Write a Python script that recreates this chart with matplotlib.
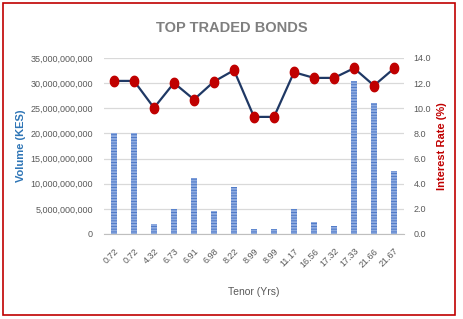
import matplotlib
matplotlib.use('Agg')
import numpy as np
from matplotlib import pyplot as plt
from matplotlib.patches import Rectangle
from matplotlib.path import Path
from matplotlib.ticker import FuncFormatter, MultipleLocator

# Данные графика
tenors = ['0.72', '0.72', '4.32', '6.73', '6.91', '6.98', '8.22', '8.99',
          '8.99', '11.17', '16.56', '17.32', '17.33', '21.66', '21.67']
volumes = [20.0e9, 20.0e9, 1.95e9, 4.9e9, 11.2e9, 4.5e9, 9.3e9, 0.95e9,
           0.95e9, 4.95e9, 2.35e9, 1.55e9, 30.4e9, 26.1e9, 12.5e9]
rates = [12.17, 12.17, 10.03, 12.01, 10.69, 12.12, 13.02, 9.31,
         9.31, 12.86, 12.41, 12.41, 13.18, 11.80, 13.16]

plt.rcParams['font.family'] = ['Liberation Sans', 'DejaVu Sans']
plt.rcParams['hatch.linewidth'] = 0.6

# маркер - эллипс, чуть вытянутый по вертикали
t = np.linspace(0, 2 * np.pi, 40)
ellipse = Path(np.column_stack([0.8 * np.cos(t), np.sin(t)]), closed=True)

fig = plt.figure(figsize=(4.63, 3.19), dpi=100)
ax = fig.add_axes([0.2246, 0.2665, 0.648, 0.552])
ax2 = ax.twinx()

x = list(range(len(tenors)))
ax.bar(x, volumes, width=0.3, color='#8eaadf', edgecolor='#4472c4',
       hatch='------', linewidth=0, zorder=2)
ax2.plot(x, rates, color='#1f3864', lw=1.6, marker=ellipse, ms=7.5,
         mfc='#c00000', mec='#c00000', zorder=3)

ax.set_xlim(-0.5, len(tenors) - 0.5)
ax.set_ylim(0, 35e9)
ax2.set_ylim(0, 14)
ax.yaxis.set_major_locator(MultipleLocator(5e9))
ax2.yaxis.set_major_locator(MultipleLocator(2))
ax.yaxis.set_major_formatter(FuncFormatter(lambda v, p: f'{int(v):,}'))
ax2.yaxis.set_major_formatter(FuncFormatter(lambda v, p: f'{v:.1f}'))
ax.grid(axis='y', color='#d9d9d9', lw=0.9, zorder=0)
ax.set_axisbelow(True)

for a in (ax, ax2):
    for s in a.spines.values():
        s.set_visible(False)
    a.tick_params(length=0, labelsize=6.5, labelcolor='#595959')
ax.spines['bottom'].set_visible(True)
ax.spines['bottom'].set_color('#bfbfbf')

ax.set_xticks(x)
ax.set_xticklabels(tenors, rotation=45, ha='right', rotation_mode='anchor')
ax.tick_params(axis='x', pad=9)
ax.tick_params(axis='y', pad=8)
ax2.tick_params(axis='y', pad=7)

ax.set_xlabel('Tenor (Yrs)', fontsize=7.5, color='#595959', labelpad=13)
ax.set_ylabel('Volume (KES)', fontsize=8, color='#2e75b6', fontweight='bold',
              labelpad=3)
ax2.set_ylabel('Interest Rate (%)', fontsize=8, color='#c00000',
               fontweight='bold', labelpad=4)

fig.text(0.5, 0.912, 'TOP TRADED BONDS', ha='center',
         va='center', fontsize=10.5, fontweight='bold', color='#7f7f7f')

fig.patches.append(Rectangle((3 / 463, 4 / 319), 452 / 463, 312 / 319,
                             transform=fig.transFigure, fill=False,
                             edgecolor='#c00000', lw=1.2))

fig.savefig('out.png', dpi=100)
